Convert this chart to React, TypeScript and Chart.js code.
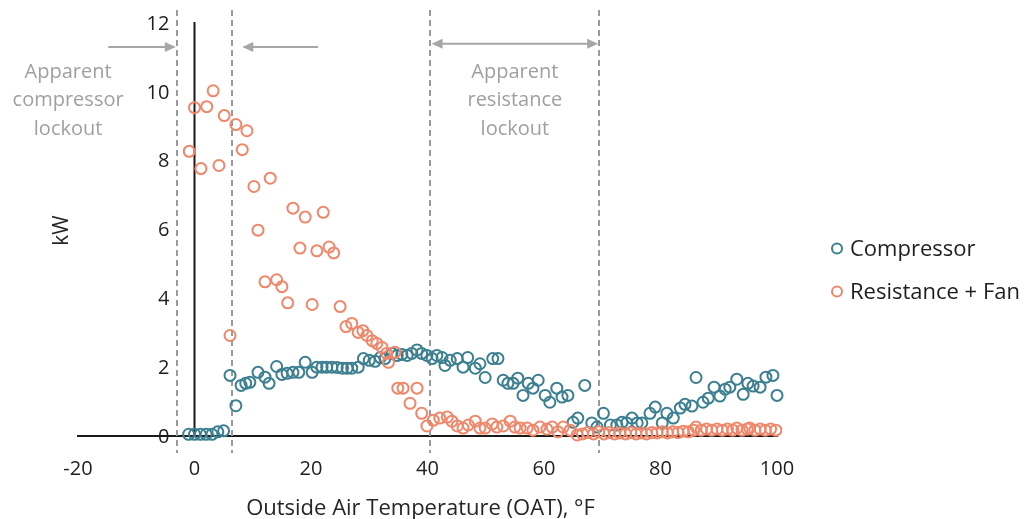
import React, { useEffect, useRef } from "react";
import { Chart, registerables } from "chart.js";

Chart.register(...registerables);

const FONT = "'Open Sans', Lato, sans-serif";

// ---------- data ----------
const compressorX = [
  -1, 0, 1, 2, 3, 4, 5, 6.1, 7.1, 8, 8.8, 9.5, 10.9, 12.1, 12.8, 14.1, 15, 15.9, 16.9, 17.9,
  19, 20.2, 21, 21.9, 22.7, 23.6, 24.5, 25.4, 26.2, 27, 28.1, 29, 30, 31, 31.9, 32.7, 33.9,
  34.8, 35.6, 36.5, 37.3, 38.2, 39, 39.9, 40.8, 41.6, 42.5, 43, 43.9, 45.1, 46.1, 46.9, 48.2,
  49, 49.9, 51.2, 52.1, 53, 53.8, 54.7, 55.5, 56.4, 57.3, 58.1, 59, 60.2, 61, 62.2, 63.1,
  64.1, 65, 65.8, 67, 68.2, 69.1, 70.2, 71.4, 72.5, 73.4, 74.2, 75.1, 76, 76.8, 78.2, 79.1,
  80.3, 81.1, 82.2, 83.4, 84.2, 85.4, 86.1, 87.3, 88.2, 89.2, 90.2, 91.1, 91.9, 93.1, 94.2,
  95, 95.9, 97.1, 98.1, 99.3, 100,
];
const compressorY = [
  0.05, 0.05, 0.05, 0.05, 0.05, 0.12, 0.15, 1.76, 0.88, 1.47, 1.53, 1.56, 1.85, 1.71, 1.53,
  2.02, 1.79, 1.82, 1.85, 1.85, 2.14, 1.85, 2.0, 2.0, 2.0, 2.0, 1.99, 1.97, 1.97, 1.97, 2.0,
  2.25, 2.2, 2.17, 2.28, 2.25, 2.4, 2.34, 2.37, 2.34, 2.4, 2.5, 2.4, 2.34, 2.25, 2.34, 2.28,
  2.05, 2.2, 2.25, 2.0, 2.28, 1.97, 2.1, 1.7, 2.25, 2.25, 1.62, 1.53, 1.53, 1.68, 1.18, 1.53,
  1.39, 1.62, 1.18, 0.98, 1.39, 1.13, 1.18, 0.4, 0.52, 1.47, 0.38, 0.26, 0.66, 0.32, 0.32,
  0.4, 0.38, 0.52, 0.38, 0.38, 0.66, 0.84, 0.38, 0.66, 0.52, 0.81, 0.92, 0.87, 1.7, 0.98,
  1.1, 1.42, 1.16, 1.36, 1.42, 1.65, 1.21, 1.53, 1.45, 1.42, 1.71, 1.76, 1.18,
];
const resistanceX = [
  -0.9, 0, 1.1, 2.1, 3.2, 4.2, 5.1, 6.1, 7.1, 8.2, 9, 10.2, 10.9, 12.1, 13, 14.1, 15, 16,
  16.9, 18.1, 19, 20.2, 21, 22.1, 23.1, 23.9, 25, 26, 27, 28.1, 28.9, 29.6, 30.5, 31.3, 32.2,
  33, 33.3, 34.4, 34.9, 35.8, 37, 38.2, 39, 39.9, 41, 42.1, 43.4, 44.2, 45.1, 46.1, 47, 48.2,
  49, 49.9, 51.1, 51.9, 53, 54.2, 55, 55.9, 57.1, 58.1, 59.3, 60.5, 61.4, 62.4, 63.3, 64.5,
  65.7, 66.6, 67.5, 68.5, 69.4, 70.3, 71.2, 72.1, 73, 74, 74.9, 75.8, 76.7, 77.6, 78.5, 79.4,
  80.3, 81.2, 82.1, 83, 83.9, 84.8, 85.7, 86.1, 87, 87.9, 88.8, 89.7, 90.6, 91.5, 92.4, 93.1,
  94, 94.9, 95.3, 96.2, 97.1, 98, 98.9, 99.8,
];
const resistanceY = [
  8.27, 9.54, 7.77, 9.57, 10.03, 7.86, 9.31, 2.92, 9.05, 8.32, 8.87, 7.25, 5.98, 4.48, 7.49,
  4.54, 4.34, 3.87, 6.62, 5.46, 6.36, 3.82, 5.38, 6.5, 5.49, 5.32, 3.76, 3.18, 3.27, 3.01,
  3.06, 2.92, 2.77, 2.69, 2.57, 2.4, 2.14, 2.43, 1.39, 1.39, 0.95, 1.39, 0.66, 0.29, 0.46,
  0.52, 0.55, 0.43, 0.29, 0.23, 0.32, 0.43, 0.23, 0.23, 0.35, 0.26, 0.29, 0.43, 0.26, 0.23,
  0.23, 0.17, 0.26, 0.2, 0.26, 0.12, 0.26, 0.17, 0.03, 0.06, 0.1, 0.06, 0.12, 0.06, 0.1,
  0.06, 0.09, 0.06, 0.1, 0.06, 0.09, 0.06, 0.1, 0.09, 0.12, 0.09, 0.12, 0.1, 0.14, 0.12,
  0.17, 0.26, 0.17, 0.2, 0.17, 0.2, 0.17, 0.2, 0.17, 0.23, 0.17, 0.2, 0.23, 0.17, 0.2, 0.17,
  0.2, 0.17,
];

const seriesLabels = ["Compressor", "Resistance + Fan"];
const seriesColors = ["#3c7f90", "#f0876a"];
const xTicks = [-20, 0, 20, 40, 60, 80, 100];
const yTicks = [0, 2, 4, 6, 8, 10, 12];
const yAxisCross = 0;
const yLabelAnchor = -4.3;
const lockoutLines = [-3, 6.5, 40.5, 69.5];
const compressorNote = ["Apparent", "compressor", "lockout"];
const resistanceNote = ["Apparent", "resistance", "lockout"];
const compressorNoteX = -21.7;
const noteTopY = 10.58;
const arrowsSpec = [
  { from: -14.8, to: -3.2, y: 11.3, both: false },
  { from: 21.2, to: 8.2, y: 11.3, both: false },
  { from: 40.7, to: 69.3, y: 11.4, both: true },
];
const xTitle = "Outside Air Temperature (OAT), °F";
const yTitle = "kW";

const toPoints = (xs: number[], ys: number[]) => xs.map((x, i) => ({ x, y: ys[i] }));

function drawArrowHead(ctx: CanvasRenderingContext2D, tipX: number, tipY: number, dir: number) {
  ctx.beginPath();
  ctx.moveTo(tipX, tipY);
  ctx.lineTo(tipX - dir * 11, tipY - 5);
  ctx.lineTo(tipX - dir * 11, tipY + 5);
  ctx.closePath();
  ctx.fill();
}

const overlayPlugin = {
  id: "overlay",
  beforeDatasetsDraw(chart: any) {
    const { ctx, chartArea, scales } = chart;
    const x = scales.x;
    ctx.save();
    // vertical axis line crossing at x = 0
    const ax = x.getPixelForValue(yAxisCross);
    ctx.strokeStyle = "#1a1a1a";
    ctx.lineWidth = 2;
    ctx.beginPath();
    ctx.moveTo(ax, chartArea.top - 1);
    ctx.lineTo(ax, chartArea.bottom);
    ctx.stroke();
    // dashed lockout lines
    ctx.strokeStyle = "#9a9a9a";
    ctx.lineWidth = 2;
    ctx.setLineDash([6, 4]);
    for (const v of lockoutLines) {
      const px = Math.round(x.getPixelForValue(v));
      ctx.beginPath();
      ctx.moveTo(px, chartArea.top - 13);
      ctx.lineTo(px, chartArea.bottom + 17);
      ctx.stroke();
    }
    ctx.restore();
  },
  afterDraw(chart: any) {
    const { ctx, chartArea, scales } = chart;
    const x = scales.x;
    const y = scales.y;
    ctx.save();
    // arrows
    ctx.strokeStyle = "#a6a6a6";
    ctx.fillStyle = "#a6a6a6";
    ctx.lineWidth = 2;
    for (const a of arrowsSpec) {
      const x1 = x.getPixelForValue(a.from);
      const x2 = x.getPixelForValue(a.to);
      const py = y.getPixelForValue(a.y);
      const dir = Math.sign(x2 - x1);
      ctx.beginPath();
      ctx.moveTo(a.both ? x1 + dir * 8 : x1, py);
      ctx.lineTo(x2 - dir * 8, py);
      ctx.stroke();
      drawArrowHead(ctx, x2, py, dir);
      if (a.both) drawArrowHead(ctx, x1, py, -dir);
    }
    // notes
    ctx.fillStyle = "#a0a0a0";
    ctx.font = `20px ${FONT}`;
    ctx.textAlign = "center";
    ctx.textBaseline = "middle";
    const lh = 28.5;
    const top = y.getPixelForValue(noteTopY);
    const lx = x.getPixelForValue(compressorNoteX);
    compressorNote.forEach((t, i) => ctx.fillText(t, lx, top + i * lh));
    const rx = (x.getPixelForValue(lockoutLines[2]) + x.getPixelForValue(lockoutLines[3])) / 2;
    resistanceNote.forEach((t, i) => ctx.fillText(t, rx, top + i * lh));
    // axis titles
    ctx.fillStyle = "#262626";
    ctx.font = `22px ${FONT}`;
    ctx.fillText(xTitle, (chartArea.left + chartArea.right) / 2 - 7, chartArea.bottom + 73);
    ctx.font = `21px ${FONT}`;
    ctx.save();
    ctx.translate(chartArea.left - 16, (chartArea.top + chartArea.bottom) / 2 + 1);
    ctx.rotate(-Math.PI / 2);
    ctx.fillText(yTitle, 0, 0);
    ctx.restore();
    // legend
    ctx.font = `22px ${FONT}`;
    ctx.textAlign = "left";
    const legendTop = (chartArea.top + chartArea.bottom) / 2 + 19;
    seriesLabels.forEach((label, i) => {
      const ly = legendTop + i * 43;
      const mx = chartArea.right + 60;
      ctx.beginPath();
      ctx.strokeStyle = seriesColors[i];
      ctx.lineWidth = 2;
      ctx.arc(mx, ly, 5, 0, Math.PI * 2);
      ctx.stroke();
      ctx.fillStyle = "#1e1e1e";
      ctx.fillText(label, mx + 13, ly + 1);
    });
    ctx.restore();
  },
};

export default function App() {
  const canvasRef = useRef<HTMLCanvasElement | null>(null);

  useEffect(() => {
    if (!canvasRef.current) return;
    const chart = new Chart(canvasRef.current, {
      type: "scatter",
      data: {
        datasets: [
          {
            label: seriesLabels[0],
            data: toPoints(compressorX, compressorY),
            borderColor: seriesColors[0],
            backgroundColor: "rgba(0,0,0,0)",
            pointRadius: 5.5,
            pointBorderWidth: 2,
            order: 1,
            clip: false as any,
          },
          {
            label: seriesLabels[1],
            data: toPoints(resistanceX, resistanceY),
            borderColor: seriesColors[1],
            backgroundColor: "rgba(0,0,0,0)",
            pointRadius: 5.5,
            pointBorderWidth: 2,
            order: 0,
            clip: false as any,
          },
        ],
      },
      options: {
        animation: false,
        responsive: false,
        devicePixelRatio: 1,
        layout: { padding: { left: 78, right: 251, top: 23, bottom: 83 } },
        plugins: { legend: { display: false }, tooltip: { enabled: false } },
        scales: {
          x: {
            type: "linear",
            position: { y: 0 } as any,
            min: xTicks[0],
            max: xTicks[xTicks.length - 1],
            afterBuildTicks: (s: any) => { s.ticks = xTicks.map((v) => ({ value: v })); },
            grid: { display: false },
            border: { display: true, color: "#1a1a1a", width: 2 },
            ticks: { color: "#1e1e1e", font: { family: FONT, size: 20 }, padding: 13 },
          },
          y: {
            type: "linear",
            position: { x: yLabelAnchor } as any,
            min: yTicks[0],
            max: yTicks[yTicks.length - 1],
            afterBuildTicks: (s: any) => { s.ticks = yTicks.map((v) => ({ value: v })); },
            grid: { display: false },
            border: { display: false },
            ticks: { color: "#1e1e1e", font: { family: FONT, size: 20 }, padding: 0, labelOffset: 1 },
          },
        },
      },
      plugins: [overlayPlugin],
    });
    return () => chart.destroy();
  }, []);

  return (
    <div style={{ position: "fixed", left: 0, top: 0, width: 1028, height: 519, background: "#fff" }}>
      <canvas ref={canvasRef} width={1028} height={519} />
    </div>
  );
}
